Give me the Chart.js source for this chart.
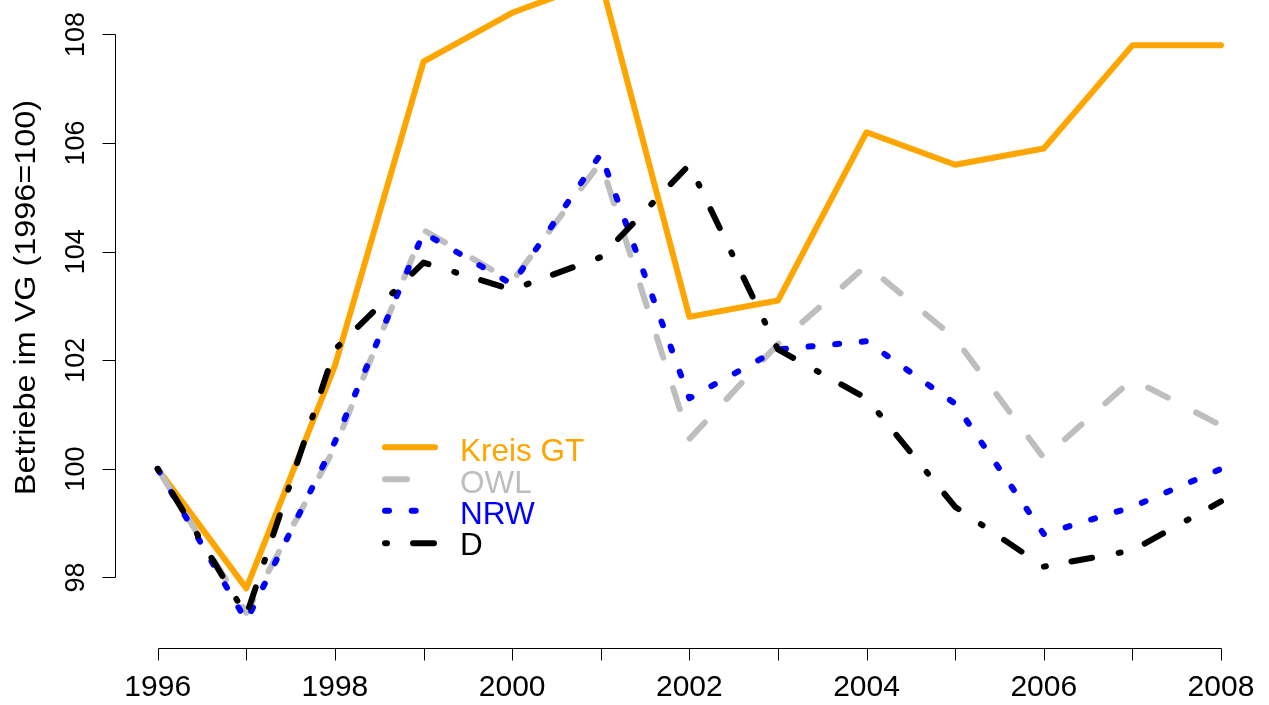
<!DOCTYPE html>
<html>
<head>
<meta charset="utf-8">
<script src="https://cdn.jsdelivr.net/npm/chart.js@4.4.0/dist/chart.umd.min.js"></script>
<style>
  html, body { margin: 0; padding: 0; background: #ffffff; }
  #c { display: block; }
</style>
</head>
<body>
<canvas id="c" width="1269" height="705"></canvas>
<script>
// ---- data ----
const years = [1996, 1997, 1998, 1999, 2000, 2001, 2002, 2003, 2004, 2005, 2006, 2007, 2008];
const kreisGT = [100, 97.8, 101.9, 107.5, 108.4, 109.0, 102.8, 103.1, 106.2, 105.6, 105.9, 107.8, 107.8];
const owl     = [100, 97.35, 100.4, 104.4, 103.45, 105.65, 100.55, 102.3, 103.75, 102.4, 100.2, 101.65, 100.8];
const nrw     = [100, 97.2, 100.5, 104.35, 103.4, 105.8, 101.3, 102.2, 102.35, 101.2, 98.8, 99.3, 100.0];
const dtl     = [100, 97.3, 102.2, 103.8, 103.3, 103.9, 105.6, 102.2, 101.3, 99.3, 98.2, 98.5, 99.4];
const seriesNames = ['Kreis GT', 'OWL', 'NRW', 'D'];
const xTickValues = [1996, 1997, 1998, 1999, 2000, 2001, 2002, 2003, 2004, 2005, 2006, 2007, 2008];
const xTickLabels = ['1996', '', '1998', '', '2000', '', '2002', '', '2004', '', '2006', '', '2008'];
const yTickValues = [98, 100, 102, 104, 106, 108];
const yTickLabels = ['98', '100', '102', '104', '106', '108'];
const yTitle = 'Betriebe im VG (1996=100)';

const toPts = arr => years.map((yr, i) => ({ x: yr, y: arr[i] }));

const styles = [
  { color: '#FFA500', dash: [], order: 4 },
  { color: '#BEBEBE', dash: [22, 32], order: 3 },
  { color: '#0000FF', dash: [4, 22.7], order: 2 },
  { color: '#000000', dash: [2, 26, 21, 27], order: 1 }
];
const allSeries = [kreisGT, owl, nrw, dtl];

const datasets = allSeries.map((s, i) => ({
  label: seriesNames[i],
  data: toPts(s),
  borderColor: styles[i].color,
  backgroundColor: styles[i].color,
  borderWidth: 6,
  borderDash: styles[i].dash,
  borderCapStyle: 'round',
  borderJoinStyle: 'round',
  pointRadius: 0,
  tension: 0,
  fill: false,
  order: styles[i].order
}));

const FONT = '"Liberation Sans", Arial, Helvetica, sans-serif';

const rAxes = {
  id: 'rAxes',
  afterDraw(chart) {
    const ctx = chart.ctx;
    const xs = chart.scales.x, ys = chart.scales.y;
    const ca = chart.chartArea;
    ctx.save();
    ctx.strokeStyle = '#000';
    ctx.fillStyle = '#000';
    ctx.lineWidth = 1;
    // x axis
    const yAx = Math.round(ca.bottom) + 0.5;
    const x0 = Math.round(xs.getPixelForValue(xTickValues[0])) + 0.5;
    const x1 = Math.round(xs.getPixelForValue(xTickValues[xTickValues.length - 1])) + 0.5;
    ctx.beginPath();
    ctx.moveTo(x0, yAx); ctx.lineTo(x1, yAx);
    xTickValues.forEach(v => {
      const px = Math.round(xs.getPixelForValue(v)) + 0.5;
      ctx.moveTo(px, yAx); ctx.lineTo(px, yAx + 12);
    });
    ctx.stroke();
    ctx.font = '30px ' + FONT;
    ctx.textAlign = 'center';
    ctx.textBaseline = 'alphabetic';
    xTickValues.forEach((v, i) => {
      if (xTickLabels[i]) ctx.fillText(xTickLabels[i], xs.getPixelForValue(v), 696);
    });
    // y axis
    const xAx = Math.round(ca.left) + 0.5;
    const yA = Math.round(ys.getPixelForValue(yTickValues[0])) + 0.5;
    const yB = Math.round(ys.getPixelForValue(yTickValues[yTickValues.length - 1])) + 0.5;
    ctx.beginPath();
    ctx.moveTo(xAx, yA); ctx.lineTo(xAx, yB);
    yTickValues.forEach(v => {
      const py = Math.round(ys.getPixelForValue(v)) + 0.5;
      ctx.moveTo(xAx, py); ctx.lineTo(xAx - 13, py);
    });
    ctx.stroke();
    ctx.font = '27px ' + FONT;
    ctx.textAlign = 'center';
    ctx.textBaseline = 'alphabetic';
    yTickValues.forEach((v, i) => {
      const py = ys.getPixelForValue(v);
      ctx.save();
      ctx.translate(84, py);
      ctx.rotate(-Math.PI / 2);
      ctx.fillText(yTickLabels[i], 0, 0);
      ctx.restore();
    });
    // y title
    ctx.save();
    ctx.font = '30px ' + FONT;
    ctx.translate(34.5, 297.5);
    ctx.rotate(-Math.PI / 2);
    ctx.scale(1.08, 1);
    ctx.fillText(yTitle, 0, 0);
    ctx.restore();
    // legend
    const lx0 = 385, lx1 = 435, tx = 460;
    const lineYs = [447.3, 479.3, 510.7, 543.3];
    const baseYs = [460.7, 492.5, 523.5, 555];
    chart.data.datasets.forEach((ds, i) => {
      ctx.save();
      ctx.strokeStyle = ds.borderColor;
      ctx.lineWidth = ds.borderWidth;
      ctx.lineCap = 'round';
      ctx.setLineDash(ds.borderDash || []);
      ctx.beginPath();
      ctx.moveTo(lx0, lineYs[i]); ctx.lineTo(lx1, lineYs[i]);
      ctx.stroke();
      ctx.restore();
      ctx.fillStyle = ds.borderColor;
      ctx.font = '31.5px ' + FONT;
      ctx.textAlign = 'left';
      ctx.fillText(ds.label, tx, baseYs[i]);
    });
    ctx.restore();
  }
};

new Chart(document.getElementById('c'), {
  type: 'line',
  data: { datasets },
  options: {
    responsive: false,
    animation: false,
    devicePixelRatio: 1,
    layout: { padding: { left: 115.2, right: 5.5, top: 0, bottom: 57.3 } },
    scales: {
      x: { type: 'linear', min: 1995.52, max: 2008.48, display: false },
      y: { type: 'linear', min: 96.707, max: 108.635, display: false }
    },
    plugins: { legend: { display: false }, tooltip: { enabled: false }, title: { display: false } }
  },
  plugins: [rAxes]
});
</script>
</body>
</html>
